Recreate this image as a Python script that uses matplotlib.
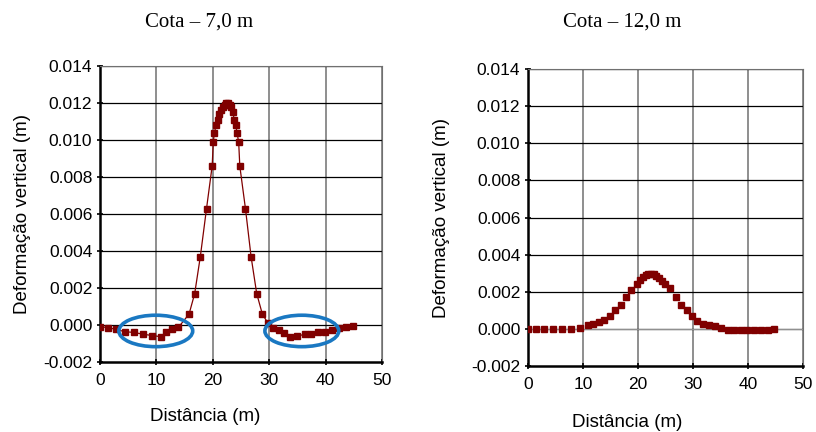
import matplotlib.pyplot as plt
from matplotlib.patches import Ellipse

# Cota - 7,0 m
x7 = [0.0, 1.4, 2.8, 4.4, 6.0, 7.7, 9.3, 10.8, 11.8, 12.8, 13.9, 15.8, 16.8, 17.8,
      18.9, 19.9, 20.1, 20.3, 20.6, 20.9, 21.2, 21.5, 21.8, 22.1, 22.4, 22.7,
      23.0, 23.3, 23.6, 23.8, 24.1, 24.3, 24.6, 24.8, 25.8, 26.8, 27.8, 28.8,
      29.8, 30.7, 31.7, 32.7, 33.7, 35.0, 36.3, 37.5, 38.7, 39.9, 41.2, 42.4,
      43.6, 44.8]
y7 = [-0.00009, -0.00014, -0.00023, -0.00036, -0.00040, -0.00050, -0.00057,
      -0.00063, -0.00040, -0.00023, -0.00013, 0.00059, 0.0017, 0.0037, 0.0063,
      0.0086, 0.0099, 0.0104, 0.0108, 0.0111, 0.0114, 0.0116, 0.0118, 0.0119,
      0.0120, 0.0120, 0.0119, 0.0118, 0.0115, 0.0111, 0.0108, 0.0104, 0.0099,
      0.0086, 0.0063, 0.0037, 0.0017, 0.00059, 0.0001, -0.00014, -0.00027,
      -0.00045, -0.00063, -0.00060, -0.00050, -0.00047, -0.00040, -0.00036,
      -0.00027, -0.00018, -0.00013, -0.00005]

# Cota - 12,0 m
x12 = [0.0, 1.5, 3.0, 4.6, 6.2, 7.8, 9.4, 10.9, 11.8, 12.9, 13.9, 14.9, 15.9,
       16.9, 17.9, 18.8, 19.8, 20.4, 20.9, 21.4, 21.9, 22.4, 22.9, 23.3, 23.8,
       24.3, 24.9, 25.9, 26.9, 27.8, 28.9, 29.8, 30.8, 31.9, 32.9, 34.0, 35.1,
       36.3, 37.5, 38.7, 39.9, 41.1, 42.3, 43.6, 44.8]
y12 = [0.0, -0.00002, -0.00002, -0.00003, -0.00003, -0.00002, 0.00004, 0.00018,
       0.00025, 0.00034, 0.00047, 0.00068, 0.0010, 0.0013, 0.0017, 0.0021,
       0.0024, 0.00265, 0.0028, 0.00289, 0.00295, 0.00297, 0.00294, 0.00287,
       0.00275, 0.0026, 0.0024, 0.0022, 0.0017, 0.0013, 0.0010, 0.00068,
       0.00040, 0.00027, 0.00020, 0.00014, 0.00005, -0.00004, -0.00009,
       -0.00009, -0.00009, -0.00007, -0.00006, -0.00004, -0.00003]

xticks = [0, 10, 20, 30, 40, 50]
yticks = [-0.002, 0.0, 0.002, 0.004, 0.006, 0.008, 0.010, 0.012, 0.014]

# highlighted zones (center x, center y, width, height)
zones = [(9.9, -0.00032, 13.1, 0.0017), (35.8, -0.00032, 13.1, 0.0017)]

RED = '#800000'
SANS = 'Liberation Sans'
SERIF = 'Liberation Serif'

fig = plt.figure(figsize=(8.16, 4.32), dpi=100)
ax1 = fig.add_axes([0.1225, 0.162, 0.3455, 0.685])
ax2 = fig.add_axes([0.647, 0.153, 0.337, 0.687])


def style(ax, ypad, xpad, xlab_x):
    ax.set_xlim(0, 50)
    ax.set_ylim(-0.002, 0.014)
    ax.set_xticks(xticks)
    ax.set_yticks(yticks)
    ax.set_yticklabels([f'{v:.3f}' for v in yticks], family=SANS, fontsize=12.5)
    ax.set_xticklabels([str(v) for v in xticks], family=SANS, fontsize=12.5)
    ax.tick_params(direction='inout', length=5, width=1.2, pad=3)
    ax.tick_params(axis='x', pad=5.5)
    for v in xticks[1:]:
        ax.axvline(v, color='#707070', lw=1.1, zorder=0)
    for v in yticks[1:]:
        ax.axhline(v, color='black', lw=0.9, zorder=0)
    ax.spines['left'].set_linewidth(1.8)
    ax.spines['bottom'].set_linewidth(1.8)
    ax.spines['top'].set_color('#707070')
    ax.spines['right'].set_color('#707070')
    ax.set_xlabel('Distância (m)', family=SANS, fontsize=13.5, labelpad=xpad)
    ax.xaxis.label.set_x(xlab_x)
    ax.set_ylabel('Deformação vertical (m)', family=SANS, fontsize=13.5, labelpad=ypad)


style(ax1, 9, 14, 0.372)
ax1.plot(x7, y7, color=RED, lw=0.9, marker='s', ms=4.5, zorder=3)
for cx, cy, w, h in zones:
    ax1.add_patch(Ellipse((cx, cy), w, h, fill=False, edgecolor='#1a78c2',
                          lw=2.6, zorder=4))

style(ax2, 15, 16, 0.36)
ax2.axhline(0, color='#909090', lw=0.8, zorder=1)
ax2.plot(x12, y12, color=RED, lw=0, marker='s', ms=4.5, zorder=3)

fig.text(0.244, 0.949, 'Cota – 7,0 m', family=SERIF, fontsize=15, ha='center', va='center')
fig.text(0.762, 0.949, 'Cota – 12,0 m', family=SERIF, fontsize=15, ha='center', va='center')

fig.savefig('out.png', dpi=100)
